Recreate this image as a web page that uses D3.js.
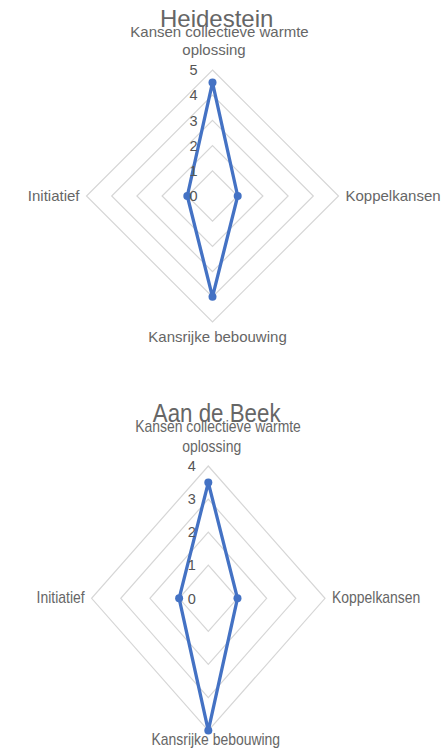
<!DOCTYPE html>
<html>
<head>
<meta charset="utf-8">
<script src="https://cdn.jsdelivr.net/npm/d3@7"></script>
<style>
  html, body { margin: 0; padding: 0; background: #fff; }
  svg { display: block; font-family: "Liberation Sans", Arial, Helvetica, sans-serif; }
</style>
</head>
<body>
<svg id="chart" width="441" height="754"></svg>
<script>
// ---- data ----
const axisLabels = [["Kansen collectieve warmte", "oplossing"], ["Koppelkansen"], ["Kansrijke bebouwing"], ["Initiatief"]];
const chartTitles = ["Heidestein", "Aan de Beek"];
const heidesteinValues = [4.5, 1, 4, 1];
const aanDeBeekValues = [3.5, 1, 4, 1];
const heidesteinTicks = [0, 1, 2, 3, 4, 5];
const aanDeBeekTicks = [0, 1, 2, 3, 4];

// ---- layout (per chart) ----
const layouts = [
  { cx: 212.5, cy: 196, rx: 126, ry: 126, sx: 1, sy: 1,
    title: [4.2, -169], top1: [7, -159], top2: [1.5, -141], bottom: [5, 146], sideGap: 7, sideDy: 4.5, tickDx: -15 },
  { cx: 208.3, cy: 598.3, rx: 116.7, ry: 132.3, sx: 0.93, sy: 1.06,
    title: [8.4, -176.6], top1: [9.7, -166.3], top2: [3.4, -146.6], bottom: [7.5, 146.7], sideGap: 7, sideDy: 4.5, tickDx: -12.5 }
];

const series = [heidesteinValues, aanDeBeekValues];
const ticksList = [heidesteinTicks, aanDeBeekTicks];

const svg = d3.select("#chart");
const textColor = "#666";
const lineColor = "#4472C4";
const gridColor = "#d6d6d6";

// angle of each axis: top, right, bottom, left
const dirs = axisLabels.map((_, i) => {
  const a = -Math.PI / 2 + i * 2 * Math.PI / axisLabels.length;
  return [Math.cos(a), Math.sin(a)];
});

series.forEach((vals, ci) => {
  const L = layouts[ci];
  const ticks = ticksList[ci];
  const maxV = d3.max(ticks);
  const sxScale = d3.scaleLinear().domain([0, maxV]).range([0, L.rx]);
  const syScale = d3.scaleLinear().domain([0, maxV]).range([0, L.ry]);
  const pt = (v, i) => [L.cx + dirs[i][0] * sxScale(v), L.cy + dirs[i][1] * syScale(v)];

  const g = svg.append("g");

  // grid polygons
  const gridLine = d3.line().curve(d3.curveLinearClosed);
  g.selectAll("path.grid").data(ticks.filter(t => t > 0)).join("path")
    .attr("class", "grid")
    .attr("d", t => gridLine(dirs.map((_, i) => pt(t, i))))
    .attr("fill", "none")
    .attr("stroke", gridColor)
    .attr("stroke-width", 1.2);

  // data polygon
  g.append("path")
    .attr("d", gridLine(vals.map((v, i) => pt(v, i))))
    .attr("fill", "none")
    .attr("stroke", lineColor)
    .attr("stroke-width", 3.3)
    .attr("stroke-linejoin", "round");

  g.selectAll("circle.pt").data(vals).join("circle")
    .attr("class", "pt")
    .attr("cx", (v, i) => pt(v, i)[0])
    .attr("cy", (v, i) => pt(v, i)[1])
    .attr("r", 4)
    .attr("fill", lineColor);

  // tick labels
  g.selectAll("text.tick").data(ticks).join("text")
    .attr("class", "tick")
    .attr("x", L.cx + L.tickDx)
    .attr("y", t => L.cy - syScale(t))
    .attr("dy", "0.36em")
    .attr("text-anchor", "end")
    .attr("font-size", 14.5)
    .attr("fill", "#555")
    .text(t => t);

  const addText = (x, y, txt, size, anchor) => {
    g.append("text")
      .attr("transform", `translate(${x},${y}) scale(${L.sx},${L.sy})`)
      .attr("text-anchor", anchor)
      .attr("font-size", size)
      .attr("fill", textColor)
      .text(txt);
  };

  // axis labels
  addText(L.cx + L.top1[0], L.cy + L.top1[1], axisLabels[0][0], 15, "middle");
  addText(L.cx + L.top2[0], L.cy + L.top2[1], axisLabels[0][1], 15, "middle");
  addText(L.cx + L.rx + L.sideGap, L.cy + L.sideDy, axisLabels[1][0], 15, "start");
  addText(L.cx + L.bottom[0], L.cy + L.bottom[1], axisLabels[2][0], 15, "middle");
  addText(L.cx - L.rx - L.sideGap, L.cy + L.sideDy, axisLabels[3][0], 15, "end");

  // title
  addText(L.cx + L.title[0], L.cy + L.title[1], chartTitles[ci], 24, "middle");
});
</script>
</body>
</html>
